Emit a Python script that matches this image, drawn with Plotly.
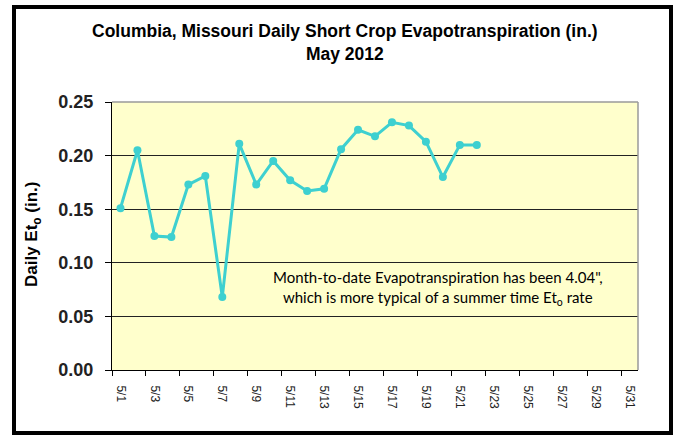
import plotly.graph_objects as go

days = [f"5/{d}" for d in range(1, 32)]
eto = [0.151, 0.205, 0.125, 0.124, 0.173, 0.181, 0.068, 0.211, 0.173, 0.195,
       0.177, 0.167, 0.169, 0.206, 0.224, 0.218, 0.231, 0.228, 0.213, 0.180,
       0.210, 0.210]
y_ticks = [0.00, 0.05, 0.10, 0.15, 0.20, 0.25]

title_text = "Columbia, Missouri Daily Short Crop Evapotranspiration (in.)<br>May 2012"
y_title = "Daily Et<sub>o</sub> (in.)"
note_text = ("Month-to-date Evapotranspiration has been 4.04\",<br>"
             "which is more typical of a summer time Et<sub>o</sub> rate")

L, R, T, B = 112, 638, 102, 370
W, H = 678, 437
ARIAL = "Liberation Sans, Arial, sans-serif"

def px(x):
    return (x - L) / (R - L)

def py(y):
    return (B - y) / (B - T)

fig = go.Figure()
fig.add_trace(go.Scatter(
    x=days[:len(eto)], y=eto, mode="lines+markers",
    line=dict(color="#3ED0D0", width=3),
    marker=dict(color="#3ED0D0", size=8, symbol="circle"),
    showlegend=False, hoverinfo="x+y"))

fig.update_layout(
    width=W, height=H,
    margin=dict(l=L, r=W - R, t=T, b=H - B, pad=0),
    paper_bgcolor="white",
    plot_bgcolor="#FFFFCC",
    font=dict(family=ARIAL, color="black"),
    xaxis=dict(
        type="category", categoryorder="array", categoryarray=days,
        range=[-0.5, 30.5], tickmode="linear", tick0=0, dtick=2,
        ticks="outside", tickson="boundaries", ticklen=5, tickcolor="black",
        tickangle=90, tickfont=dict(size=12, color="#222", family=ARIAL),
        ticklabelstandoff=12,
        showline=True, linecolor="black", linewidth=1,
        showgrid=False, zeroline=False, fixedrange=True),
    yaxis=dict(
        range=[0, 0.25], tickvals=y_ticks,
        ticktext=[f"<b>{v:.2f}</b>" for v in y_ticks],
        ticks="outside", ticklen=6, tickcolor="black",
        tickfont=dict(size=18, color="#222", family=ARIAL),
        ticklabelstandoff=8,
        showline=True, linecolor="black", linewidth=1,
        showgrid=True, gridcolor="#222", gridwidth=1,
        zeroline=False, fixedrange=True),
    shapes=[
        dict(type="line", xref="paper", yref="paper", x0=0, x1=1, y0=1, y1=1,
             line=dict(color="#9a9a9a", width=1.5), layer="above"),
        dict(type="line", xref="paper", yref="paper", x0=1, x1=1, y0=0, y1=1,
             line=dict(color="#9a9a9a", width=1.5), layer="above"),
        dict(type="rect", xref="paper", yref="paper",
             x0=px(14), x1=px(671), y0=py(433), y1=py(7),
             line=dict(color="black", width=4), fillcolor="rgba(0,0,0,0)", layer="above"),
    ],
    annotations=[
        dict(text="<b>" + title_text + "</b>", xref="paper", yref="paper",
             x=px(345), y=py(42), xanchor="center", yanchor="middle",
             showarrow=False, font=dict(size=17.5, color="black", family=ARIAL), align="center"),
        dict(text="<b>" + y_title + "</b>", xref="paper", yref="paper",
             x=px(33), y=py(234), xanchor="center", yanchor="middle", textangle=-90,
             showarrow=False, font=dict(size=17, color="black", family=ARIAL)),
        dict(text=note_text, xref="paper", yref="paper",
             x=px(438), y=py(288), xanchor="center", yanchor="middle",
             showarrow=False, font=dict(size=15, color="#000", family="Lato, Open Sans, sans-serif"),
             align="center"),
    ],
)

fig.write_html("out.html", config={"displayModeBar": False},
               post_script="document.body.style.margin='0';")
